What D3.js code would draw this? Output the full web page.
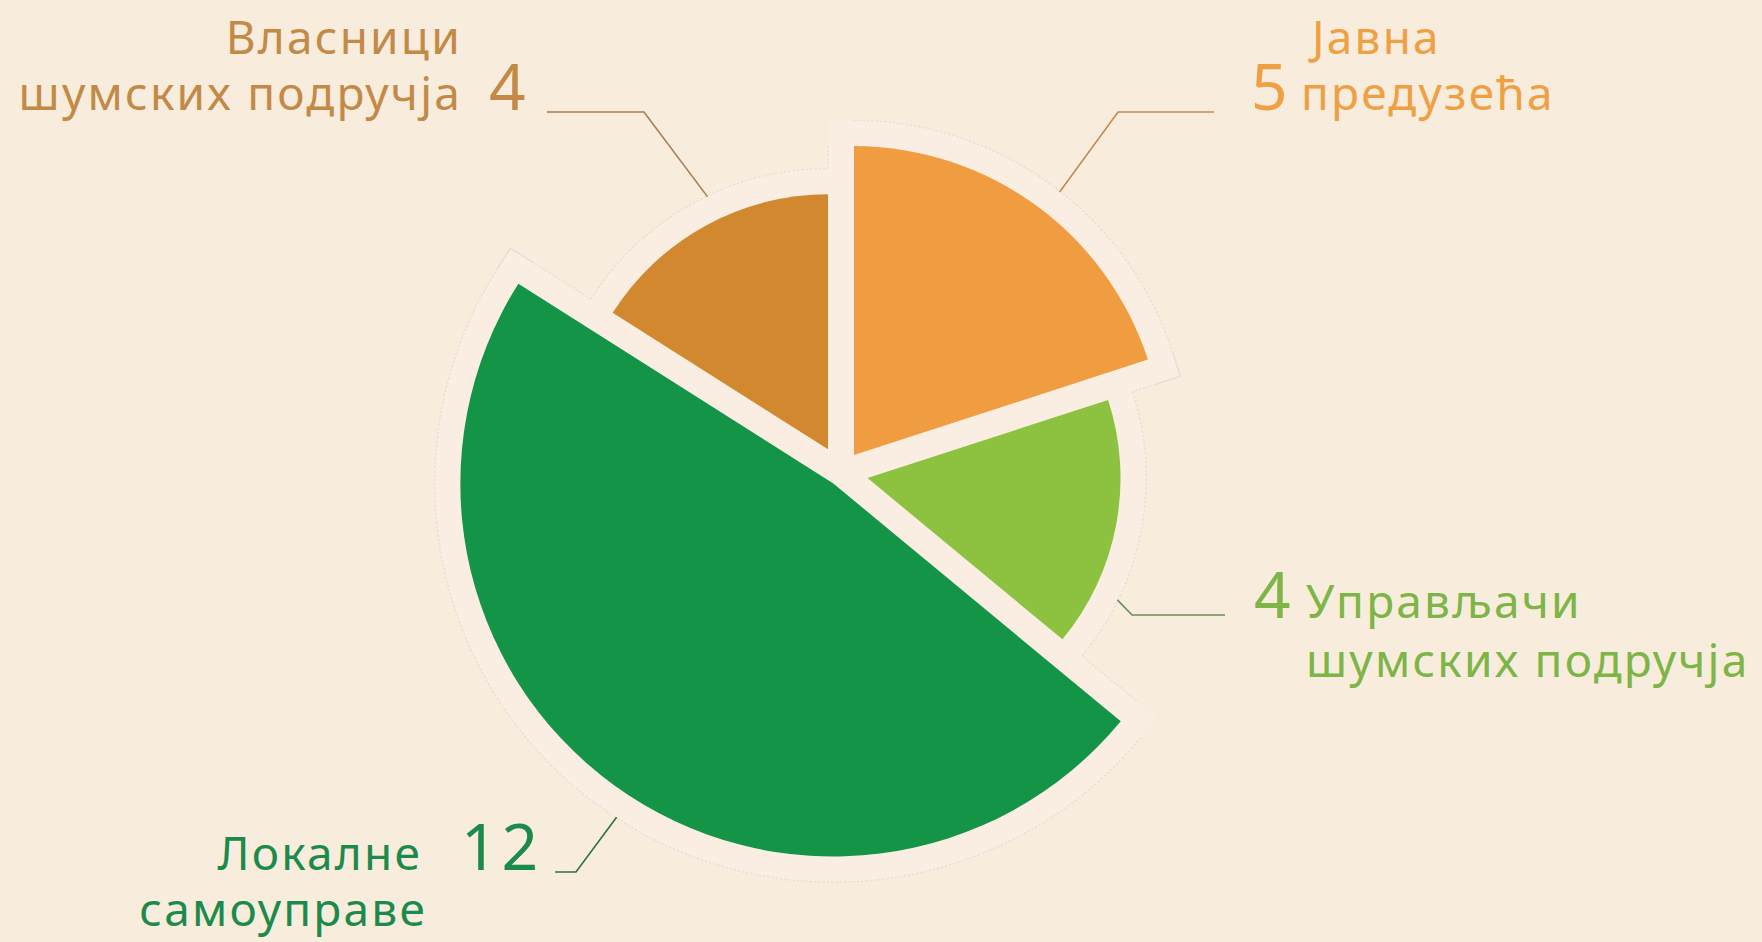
<!DOCTYPE html>
<html lang="sr">
<head>
<meta charset="UTF-8">
<title>Структура власника</title>
<script src="https://cdn.jsdelivr.net/npm/d3@7"></script>
<style>
  body { margin: 0; background: #f8ecdd; }
  text { font-family: "Noto Sans", sans-serif; }
</style>
</head>
<body>
<svg width="1762" height="942"></svg>
<script>
// data
var categories = ["Јавна предузећа", "Управљачи шумских подручја", "Локалне самоуправе", "Власници шумских подручја"];
var values = [5, 4, 12, 4];
var labelLines = [["Јавна", "предузећа"], ["Управљачи", "шумских подручја"], ["Локалне", "самоуправе"], ["Власници", "шумских подручја"]];

// look
var sliceColors = ["#f09c40", "#8cc23f", "#139447", "#d2882f"];
var textColors = ["#eea043", "#7db546", "#1c8a4a", "#c38a47"];
var leaderColors = ["#c68a4e", "#6d8c5c", "#2f6e4c", "#a97c55"];
var radii = [309, 253, 373, 255];
var leaderAngles = [38, 116, 213, 334.5];   // degrees, where the leader meets the halo

// label layout: number position, text lines, leader elbow + end of horizontal
var labelLayout = [
  {num: [1251, 110], lines: [[1312, 54, "start"], [1301, 110, "start"]], leader: [[1214, 112], [1118, 112]]},
  {num: [1254, 618], lines: [[1306, 618, "start"], [1306, 677, "start"]], leader: [[1225, 615], [1132, 615]]},
  {num: [461, 870], lines: [[422, 870, "end"], [427, 926, "end"]], leader: [[555, 872], [576, 872]]},
  {num: [489, 110], lines: [[462, 54, "end"], [462, 110, "end"]], leader: [[547, 112], [644, 112]]}
];

var svg = d3.select("svg");
var cx = 841, cy = 473, gap = 26, halo = 25;

var pie = d3.pie().sort(null).value(d => d);
var arcs = pie(values);
var arc = d3.arc().innerRadius(0).outerRadius(d => radii[d.index]);

// push every slice out along its bisector so the gaps have constant width
arcs.forEach(function(d) {
  var mid = (d.startAngle + d.endAngle) / 2,
      half = (d.endAngle - d.startAngle) / 2,
      off = gap / (2 * Math.sin(half));
  d.tx = cx + off * Math.sin(mid);
  d.ty = cy - off * Math.cos(mid);
});

var outline = svg.append("g"), glow = svg.append("g"), slices = svg.append("g");

outline.selectAll("path").data(arcs).enter().append("path")
  .attr("transform", d => "translate(" + d.tx + "," + d.ty + ")")
  .attr("d", arc)
  .style("fill", "none").style("stroke", "#e3e0da")
  .style("stroke-width", halo * 2 + 3).style("stroke-linejoin", "miter")
  .style("stroke-dasharray", "2,2");

glow.selectAll("path").data(arcs).enter().append("path")
  .attr("transform", d => "translate(" + d.tx + "," + d.ty + ")")
  .attr("d", arc)
  .style("fill", "#faeee3").style("stroke", "#faeee3")
  .style("stroke-width", halo * 2).style("stroke-linejoin", "miter");

slices.selectAll("path").data(arcs).enter().append("path")
  .attr("transform", d => "translate(" + d.tx + "," + d.ty + ")")
  .attr("d", arc)
  .style("fill", (d, i) => sliceColors[i]);

// leaders
arcs.forEach(function(d, i) {
  var a = leaderAngles[i] * Math.PI / 180,
      r = radii[i] + halo,
      end = [d.tx + r * Math.sin(a), d.ty - r * Math.cos(a)];
  var pts = labelLayout[i].leader.concat([end]);
  svg.append("path")
    .attr("d", d3.line()(pts))
    .style("fill", "none").style("stroke", leaderColors[i]).style("stroke-width", 1.6);
});

// labels
labelLayout.forEach(function(l, i) {
  var g = svg.append("g").style("fill", textColors[i]);
  l.lines.forEach(function(p, j) {
    g.append("text")
      .attr("x", p[0]).attr("y", p[1])
      .attr("text-anchor", p[2])
      .style("font-size", "46px")
      .style("letter-spacing", "2.2px")
      .text(labelLines[i][j]);
  });
  g.append("text")
    .attr("x", l.num[0]).attr("y", l.num[1])
    .style("font-size", "64px")
    .style("letter-spacing", "4px")
    .text(values[i]);
});
</script>
</body>
</html>
